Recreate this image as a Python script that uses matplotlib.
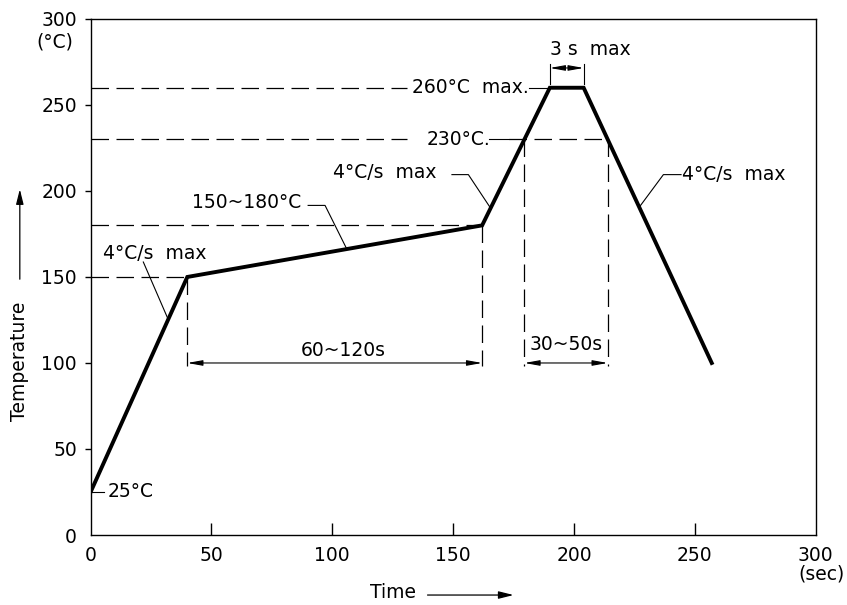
import numpy as np
import matplotlib.pyplot as plt

# reflow profile corner points
time_s = [0, 40, 162, 190, 204, 257]
temp_c = [25, 150, 180, 260, 260, 100]

x_ticks = [0, 50, 100, 150, 200, 250, 300]
y_ticks = [0, 50, 100, 150, 200, 250, 300]

preheat_t, preheat_temp = 40, 150
soak_end_t, soak_end_temp = 162, 180
liquidus = 230
peak = 260
peak_start, peak_end = 190, 204

# where the profile crosses the liquidus line
t_up = np.interp(liquidus, [soak_end_temp, peak], [soak_end_t, peak_start])
t_down = np.interp(liquidus, [temp_c[-1], peak], [time_s[-1], peak_end])

plt.rcParams['font.family'] = 'DejaVu Sans'
plt.rcParams['font.size'] = 13.5

fig = plt.figure(figsize=(8.47, 6.05), dpi=100)
ax = fig.add_axes([0.107, 0.1157, 0.856, 0.853])
ax.set_xlim(0, 300)
ax.set_ylim(0, 300)

DASH = dict(color='black', lw=0.9, dashes=(14, 6))
THIN = dict(color='black', lw=0.8)

# horizontal guides
ax.plot([0, preheat_t], [preheat_temp] * 2, **DASH)
ax.plot([0, soak_end_t], [soak_end_temp] * 2, **DASH)
ax.plot([0, 131], [liquidus] * 2, **DASH)
ax.plot([173, t_down], [liquidus] * 2, **DASH)
ax.plot([0, 131], [peak] * 2, **DASH)

# vertical guides
dim_y = 100
for t, top in [(preheat_t, preheat_temp), (soak_end_t, soak_end_temp),
               (t_up, liquidus), (t_down, liquidus)]:
    ax.plot([t, t], [top, dim_y - 2], **DASH)

# profile
ax.plot(time_s, temp_c, color='black', lw=2.8, solid_joinstyle='miter', zorder=5)


def dim_arrow(x0, x1, y):
    ax.annotate('', xy=(x1, y), xytext=(x0, y),
                arrowprops=dict(arrowstyle='<|-|>,head_length=1.0,head_width=0.18',
                                color='black', lw=0.8, mutation_scale=9,
                                shrinkA=0, shrinkB=0))


dim_arrow(preheat_t, soak_end_t, dim_y)
ax.text(104.5, 107.5, '60~120s', ha='center', va='center')
dim_arrow(t_up, t_down, dim_y)
ax.text((t_up + t_down) / 2, 110.5, '30~50s', ha='center', va='center')

# 3 s bracket above the peak
ax.plot([peak_start, peak_start], [peak + 2, peak + 14], **THIN)
ax.plot([peak_end, peak_end], [peak + 2, peak + 14], **THIN)
dim_arrow(peak_start, peak_end, peak + 11.5)
ax.text(190.2, peak + 22, '3 s  max', ha='left', va='center')

# peak and liquidus labels
ax.text(132.9, peak, '260°C  max.', ha='left', va='center')
ax.plot([181.3, peak_start], [peak, peak], **THIN)
ax.text(139.2, liquidus, '230°C.', ha='left', va='center')
ax.plot([164.8, 173], [liquidus, liquidus], **THIN)

# ramp / soak callouts with leaders to the profile
def on_profile(t):
    return t, np.interp(t, time_s, temp_c)

ax.text(5.1, 163.6, '4°C/s  max', ha='left', va='center')
ax.plot(*zip((21.8, 158.7), on_profile(32.1)), **THIN)

ax.text(41.8, 193.5, '150~180°C', ha='left', va='center')
ax.plot(*zip((90, 191.6), (97, 191.6), on_profile(106)), **THIN)

ax.text(100.4, 210.5, '4°C/s  max', ha='left', va='center')
ax.plot(*zip((149.5, 209.5), (156.3, 209.5), on_profile(165.5)), **THIN)

ax.text(244.8, 209.5, '4°C/s  max', ha='left', va='center')
ax.plot(*zip((244.3, 209.5), (237, 209.5), on_profile(227)), **THIN)

ax.text(7.2, 25.5, '25°C', ha='left', va='center')
ax.plot([0, 5.5], [25, 25], **THIN)

# axes styling
for sp in ax.spines.values():
    sp.set_linewidth(1.0)
ax.set_xticks(x_ticks)
ax.set_yticks(y_ticks)
ax.tick_params(axis='x', direction='in', length=8.6, width=1.0, pad=8)
ax.tick_params(axis='y', direction='out', length=4.3, width=1.0, pad=5.5)
for tk in (ax.xaxis.get_major_ticks()[0], ax.xaxis.get_major_ticks()[-1],
           ax.yaxis.get_major_ticks()[0]):
    tk.tick1line.set_visible(False)

ax.text(-14.8, 286.5, '(°C)', ha='center', va='center', clip_on=False)
ax.text(302.5, -22.7, '(sec)', ha='center', va='center', clip_on=False)

ax.text(-29.3, 101, 'Temperature', rotation=90, ha='center', va='center', clip_on=False)
ax.annotate('', xy=(-29.3, 201), xytext=(-29.3, 148.7), annotation_clip=False,
            arrowprops=dict(arrowstyle='-|>,head_length=1.0,head_width=0.25',
                            color='black', lw=0.9, mutation_scale=9, shrinkA=0, shrinkB=0))
ax.text(125.3, -33.7, 'Time', ha='center', va='center', clip_on=False)
ax.annotate('', xy=(175, -34.9), xytext=(139.4, -34.9), annotation_clip=False,
            arrowprops=dict(arrowstyle='-|>,head_length=1.0,head_width=0.25',
                            color='black', lw=0.9, mutation_scale=9, shrinkA=0, shrinkB=0))

fig.savefig('out.png', dpi=100)
